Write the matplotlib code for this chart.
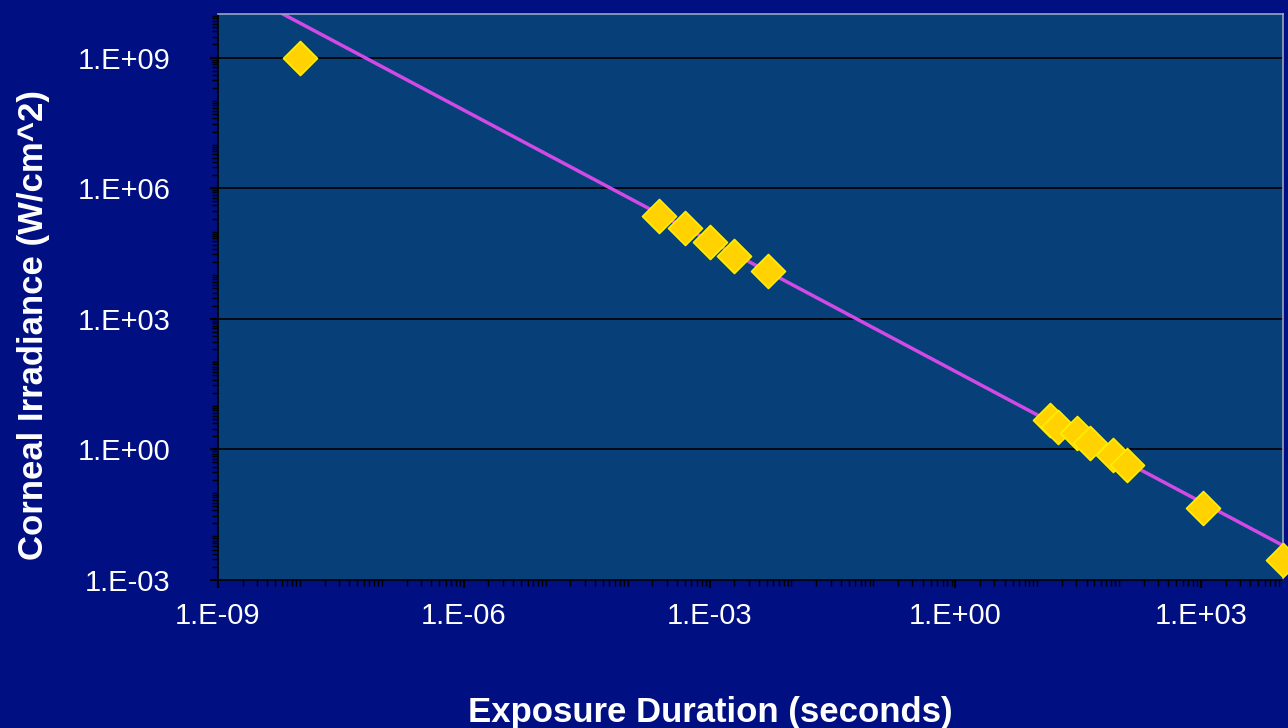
import matplotlib
matplotlib.use("Agg")
import matplotlib.pyplot as plt
from matplotlib.ticker import NullFormatter, FixedLocator

# exposure duration (s) vs corneal irradiance (W/cm^2)
duration = [1e-8, 2.4e-4, 5e-4, 1e-3, 2e-3, 5.2e-3,
            14.4, 18, 31, 44, 83, 125, 1070, 1e4]
irradiance = [1e9, 2.3e5, 1.2e5, 5.9e4, 2.8e4, 1.26e4,
              4.8, 3.3, 2.4, 1.4, 0.74, 0.44, 0.045, 0.0029]

# power-law trend line end points
fit_x = [6.2e-9, 1e4]
fit_y = [1e10, 6.2e-3]

x_ticks = [1e-9, 1e-6, 1e-3, 1e0, 1e3]
x_labels = ["1.E-09", "1.E-06", "1.E-03", "1.E+00", "1.E+03"]
y_ticks = [1e-3, 1e0, 1e3, 1e6, 1e9]
y_labels = ["1.E-03", "1.E+00", "1.E+03", "1.E+06", "1.E+09"]

BG = "#000f82"
PLOT_BG = "#073f78"

plt.rcParams["font.family"] = ["Liberation Sans", "DejaVu Sans"]

fig = plt.figure(figsize=(12.88, 7.28), dpi=100, facecolor=BG)
ax = fig.add_axes([218 / 1288, 1 - 580 / 728, (1283 - 218) / 1288, (580 - 14) / 728])
ax.set_facecolor(PLOT_BG)
ax.set_xscale("log")
ax.set_yscale("log")
ax.set_xlim(1e-9, 1e4)
ax.set_ylim(1e-3, 1e10)

for y in y_ticks[1:]:
    ax.axhline(y, color="black", lw=1.2, zorder=1)

ax.plot(fit_x, fit_y, color="#d24ae6", lw=2.5, zorder=2)
ax.scatter(duration, irradiance, marker="D", s=300, c="#ffd200",
           edgecolors="#ffee00", linewidths=1.2, zorder=3, clip_on=False)

# log minor ticks (LogLocator drops subs past 10 decades)
minor_x = [m * 10.0 ** e for e in range(-9, 4) for m in range(1, 10)]
minor_y = [m * 10.0 ** e for e in range(-3, 10) for m in range(1, 10)]

ax.xaxis.set_major_locator(FixedLocator(x_ticks))
ax.set_xticklabels(x_labels)
ax.yaxis.set_major_locator(FixedLocator(y_ticks))
ax.set_yticklabels(y_labels)
ax.xaxis.set_minor_locator(FixedLocator(minor_x))
ax.yaxis.set_minor_locator(FixedLocator(minor_y))
ax.xaxis.set_minor_formatter(NullFormatter())
ax.yaxis.set_minor_formatter(NullFormatter())

ax.tick_params(axis="both", which="major", colors="black", labelcolor="white",
               labelsize=21, length=6, width=1.5)
ax.tick_params(axis="both", which="minor", colors="black", length=4, width=1)
ax.tick_params(axis="x", pad=10)
ax.tick_params(axis="y", pad=28)

for side in ["left", "bottom"]:
    ax.spines[side].set_color("black")
    ax.spines[side].set_linewidth(1.2)
for side in ["top", "right"]:
    ax.spines[side].set_color("#9aa6c0")
    ax.spines[side].set_linewidth(1.2)

ax.set_xlabel("Exposure Duration (seconds)", color="white", fontsize=25,
              fontweight="bold")
ax.set_ylabel("Corneal Irradiance (W/cm^2)", color="white", fontsize=25,
              fontweight="bold")
ax.xaxis.set_label_coords(0.462, -0.205)
ax.yaxis.set_label_coords(-0.158, 0.45)

fig.savefig("out.png", dpi=100, facecolor=BG)
